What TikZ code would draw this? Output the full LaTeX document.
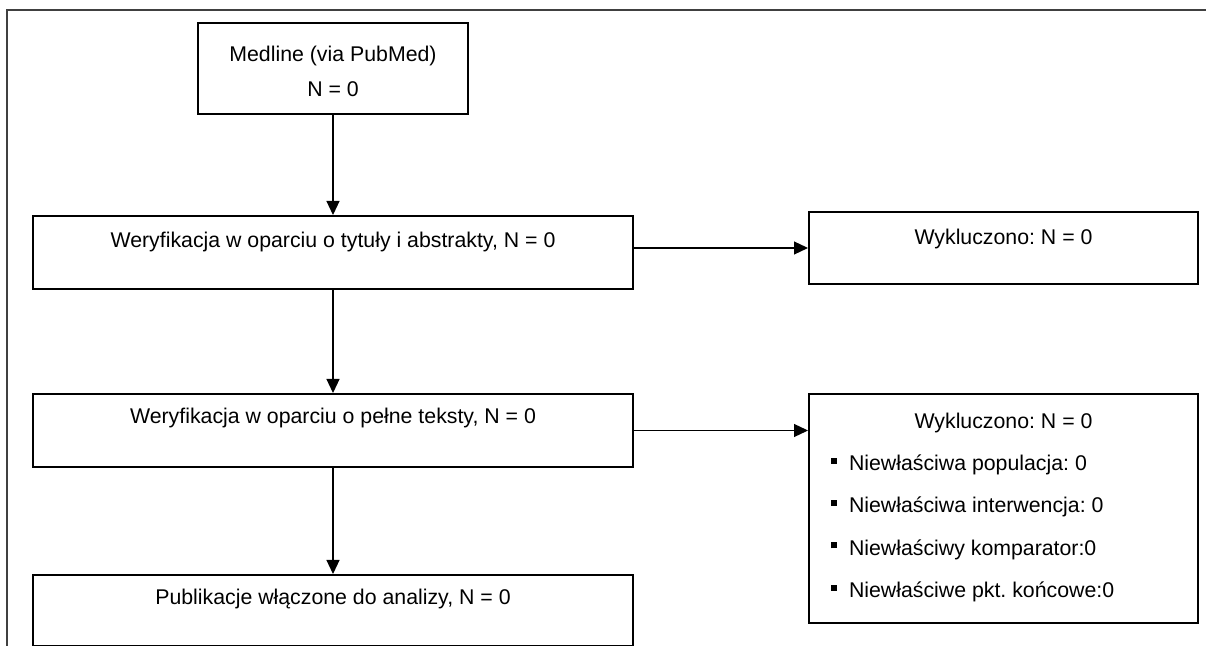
\documentclass[tikz,border=0pt]{standalone}
\usepackage{fontspec}
\setmainfont{Liberation Sans}
\usetikzlibrary{arrows.meta}
\frenchspacing

\newcommand{\exclitem}{\hspace*{11pt}\rule[3.5pt]{3pt}{3pt}\hspace{6pt}}

\begin{document}
\begin{tikzpicture}[
	x=0.5pt, y=-0.5pt,
	>={Triangle[length=7pt, width=6.5pt]},
	font=\fontsize{10.65}{13}\selectfont,
	box/.style={draw, line width=1pt, anchor=north west, inner sep=0pt}
]
	\useasboundingbox (0, 0) rectangle (1206, 646);

	% frame, only top and left edges show
	\draw[line width=1pt, black!75] (1206, 10) -- (7, 10) -- (7, 646);

	\node[box, minimum width=135pt, text height=19.5pt, text depth=26pt]
		(med) at (197, 22)
		{\begin{tabular}[t]{@{}c@{}}Medline (via PubMed)\\[4.5pt] N = 0\end{tabular}};

	\node[box, minimum width=300pt, text height=16pt, text depth=20.5pt]
		(wer1) at (32, 215) {Weryfikacja w oparciu o tytuły i abstrakty, N = 0};
	\node[box, minimum width=194.5pt, text height=16.5pt, text depth=19.5pt]
		(wyk1) at (808, 211) {Wykluczono: N = 0};

	\node[box, minimum width=300pt, text height=15pt, text depth=21.5pt]
		(wer2) at (32, 393) {Weryfikacja w oparciu o pełne teksty, N = 0};
	\node[box, minimum width=194.5pt, text height=17.2pt, text depth=97.3pt]
		(wyk2) at (808, 393)
		{\parbox[t]{194.5pt}{\baselineskip=21.15pt
			\centering Wykluczono: N = 0\par
			\raggedright
			\exclitem Niewłaściwa populacja: 0\par
			\exclitem Niewłaściwa interwencja: 0\par
			\exclitem Niewłaściwy komparator:0\par
			\exclitem Niewłaściwe pkt. końcowe:0\par}};

	\node[box, minimum width=300pt, text height=15pt, text depth=20.5pt]
		(pub) at (32, 574) {Publikacje włączone do analizy, N = 0};

	\draw[->, line width=0.6pt] (med) -- (wer1);
	\draw[->, line width=0.6pt] (wer1.east |- wyk1.west) -- (wyk1.west);
	\draw[->, line width=0.6pt] (wer1) -- (wer2);
	\draw[->, line width=0.6pt] (wer2.east) -- (wer2.east -| wyk2.west);
	\draw[->, line width=0.6pt] (wer2) -- (pub);

\end{tikzpicture}
\end{document}
